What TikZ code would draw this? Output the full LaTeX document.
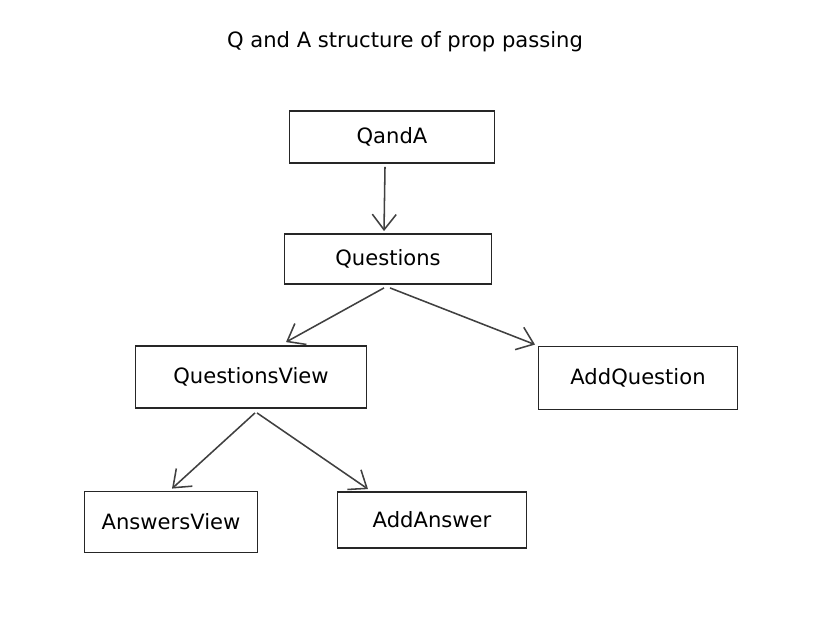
\documentclass[tikz,border=0pt]{standalone}
\usepackage{fontspec}
\setmainfont{DejaVu Sans}
\usetikzlibrary{arrows.meta}
\def\boxlw{1.3pt}

\begin{document}
\begin{tikzpicture}[x=0.025cm,y=-0.025cm,draw=black!85,font=\fontsize{15pt}{17pt}\selectfont]
            \tikzstyle{comp}=[draw,line width=\boxlw,inner sep=0pt]
            \tikzstyle{link}=[->,>={Straight Barb[length=11pt,width=17pt,line width=1.1pt]},line width=1.1pt,draw=black!75]

            \useasboundingbox (0,0) rectangle (820,636);

            % Title
            \node (title) at (405,42) {Q and A structure of prop passing};

            % Components
            \node[comp, minimum width=205*0.025cm, minimum height=52*0.025cm] (QA) at (392,137) {QandA};
            \node[comp, minimum width=207*0.025cm, minimum height=50*0.025cm] (Q) at (388,259) {Questions};
            \node[comp, minimum width=231*0.025cm, minimum height=62*0.025cm] (QV) at (251,377) {QuestionsView};
            \node[comp, minimum width=199*0.025cm, minimum height=63*0.025cm] (AQ) at (638,378) {AddQuestion};
            \node[comp, minimum width=173*0.025cm, minimum height=61*0.025cm] (AV) at (171,522) {AnswersView};
            \node[comp, minimum width=189*0.025cm, minimum height=56*0.025cm] (AA) at (432,520) {AddAnswer};

            % Props passed down
            \draw[link] ([xshift=-7*0.025cm,yshift=-3*0.025cm]QA.south) -- ([xshift=-4*0.025cm,yshift=2*0.025cm]Q.north);
            \draw[link] ([xshift=-4*0.025cm,yshift=-3*0.025cm]Q.south) -- ([xshift=35*0.025cm,yshift=3*0.025cm]QV.north);
            \draw[link] ([xshift=2*0.025cm,yshift=-3*0.025cm]Q.south) -- ([xshift=-103*0.025cm,yshift=1*0.025cm]AQ.north);
            \draw[link] ([xshift=4*0.025cm,yshift=-4*0.025cm]QV.south) -- ([xshift=1*0.025cm,yshift=2*0.025cm]AV.north);
            \draw[link] ([xshift=6*0.025cm,yshift=-4*0.025cm]QV.south) -- ([xshift=-64*0.025cm,yshift=2*0.025cm]AA.north);
        \end{tikzpicture}
\end{document}
